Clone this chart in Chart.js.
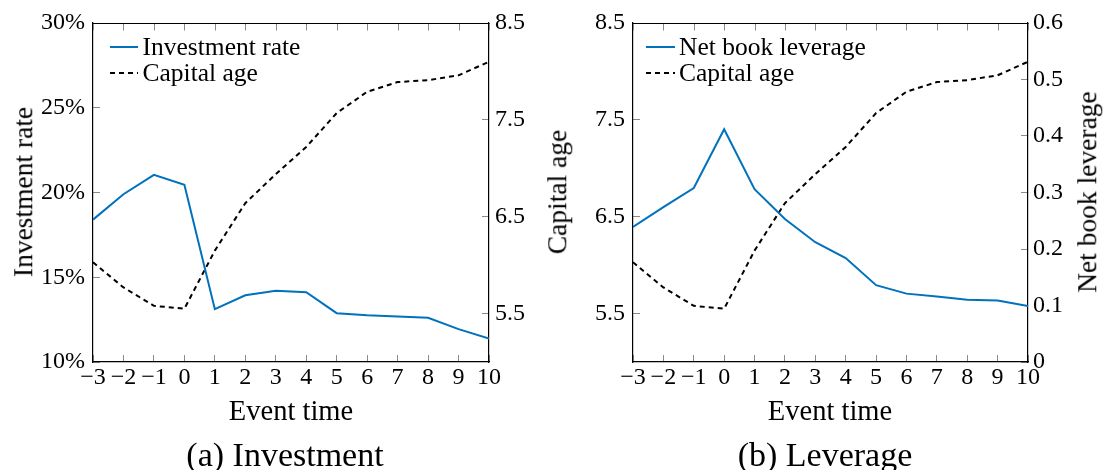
<!DOCTYPE html>
<html><head><meta charset="utf-8">
<script src="https://cdn.jsdelivr.net/npm/chart.js@4.4.1/dist/chart.umd.min.js"></script>
<style>
html,body{margin:0;padding:0;background:#fff;}
#wrap{position:relative;width:1103px;height:470px;overflow:hidden;font-family:'Liberation Serif',serif;color:#000;}
canvas{position:absolute;top:0;}
.t{position:absolute;white-space:nowrap;line-height:1;transform:translate(-50%,-50%);}
.r{transform:translate(-50%,-50%) rotate(-90deg);}
</style></head><body>
<div id="wrap">
<canvas id="c1" width="540" height="400" style="left:0"></canvas>
<canvas id="c2" width="543" height="400" style="left:560px"></canvas>
<div class="t r" style="left:23px;top:192px;font-size:27.5px">Investment rate</div>
<div class="t r" style="left:557px;top:192px;font-size:27.5px">Capital age</div>
<div class="t r" style="left:1087px;top:192px;font-size:27.5px">Net book leverage</div>
<div class="t" style="left:291px;top:411px;font-size:28.5px">Event time</div>
<div class="t" style="left:830px;top:411px;font-size:28.5px">Event time</div>
<div class="t" style="left:285px;top:455px;font-size:34px">(a) Investment</div>
<div class="t" style="left:825px;top:455px;font-size:34px">(b) Leverage</div>
</div>
<script>
// ---- data ----
const eventTime = [-3, -2, -1, 0, 1, 2, 3, 4, 5, 6, 7, 8, 9, 10];
const investmentRate = [18.4, 19.9, 21.04, 20.45, 13.12, 13.94, 14.2, 14.12, 12.88, 12.76, 12.69, 12.61, 11.94, 11.39];
const capitalAge = [6.03, 5.77, 5.58, 5.55, 6.15, 6.64, 6.94, 7.22, 7.57, 7.79, 7.89, 7.91, 7.96, 8.10];
const netBookLeverage = [0.239, 0.274, 0.308, 0.412, 0.306, 0.253, 0.212, 0.184, 0.136, 0.121, 0.116, 0.110, 0.109, 0.099];
// ---- tick labels ----
const eventTicks = [-3, -2, -1, 0, 1, 2, 3, 4, 5, 6, 7, 8, 9, 10];
const investmentTicks = [10, 15, 20, 25, 30];
const capitalAgeTicks = [5.5, 6.5, 7.5, 8.5];
const leverageTicks = [0, 0.1, 0.2, 0.3, 0.4, 0.5, 0.6];

const FONT = "'Liberation Serif', serif";
const BLUE = 'rgb(0,114,189)';
const TICKCOL = '#8a8a8a';
Chart.defaults.font.family = FONT;
Chart.defaults.color = '#000';

const pts = ys => eventTime.map((x, i) => ({x: x, y: ys[i]}));
const fixedTicks = arr => (s => { s.ticks = arr.map(v => ({value: v})); });
const minusFmt = v => String(v).replace('-', '\u2212');

function axis(pos, min, max, ticks, fmt, pad, size) {
  const horiz = pos === 'top' || pos === 'bottom';
  return {
    type: 'linear', position: pos, min: min, max: max,
    afterBuildTicks: fixedTicks(ticks),
    ticks: {callback: fmt, padding: pad, font: {size: 24, family: FONT}, color: '#000',
            autoSkip: false, maxRotation: 0, minRotation: 0},
    grid: {drawOnChartArea: false, drawTicks: true, tickLength: -7, color: TICKCOL, lineWidth: 1},
    border: {display: true, color: '#000', width: 1.2},
    afterFit: s => {
      if (horiz) s.height = size; else s.width = size;
      s.paddingTop = 0; s.paddingBottom = 0; s.paddingLeft = 0; s.paddingRight = 0;
    }
  };
}

// in-plot legend (no frame), drawn from the datasets' own label / colour / dash
const legendPlugin = {
  id: 'inLegend',
  afterDraw(chart, args, opts) {
    const {ctx, chartArea} = chart;
    ctx.save();
    ctx.font = '25.5px ' + FONT;
    ctx.textBaseline = 'alphabetic';
    ctx.textAlign = 'left';
    ctx.fillStyle = '#000';
    chart.data.datasets.forEach((ds, i) => {
      const y = chartArea.top + opts.y0 + i * opts.dy;
      ctx.beginPath();
      ctx.setLineDash(ds.borderDash || []);
      ctx.strokeStyle = ds.borderColor;
      ctx.lineWidth = ds.borderWidth;
      ctx.moveTo(chartArea.left + opts.x0, y);
      ctx.lineTo(chartArea.left + opts.x1, y);
      ctx.stroke();
      ctx.setLineDash([]);
      ctx.fillText(ds.label, chartArea.left + opts.tx, y + 7.8);
    });
    ctx.restore();
  }
};

// top edge of the axis box with mirrored (inward) x tick marks
const topFramePlugin = {
  id: 'topFrame',
  afterDraw(chart) {
    const {ctx, chartArea, scales} = chart;
    const xs = scales.x;
    const yTop = Math.round(chartArea.top) + 0.5;
    ctx.save();
    ctx.strokeStyle = TICKCOL;
    ctx.lineWidth = 1;
    xs.ticks.forEach(t => {
      const px = Math.round(xs.getPixelForValue(t.value)) + 0.5;
      ctx.beginPath();
      ctx.moveTo(px, yTop);
      ctx.lineTo(px, yTop + 7);
      ctx.stroke();
    });
    ctx.strokeStyle = '#000';
    ctx.lineWidth = 1.2;
    ctx.beginPath();
    ctx.moveTo(chartArea.left - 0.6, yTop);
    ctx.lineTo(chartArea.right + 0.6, yTop);
    ctx.stroke();
    ctx.restore();
  }
};

function lineDs(label, ys, color, dash, yAxisID) {
  return {label: label, data: pts(ys), borderColor: color, backgroundColor: color,
          borderWidth: 2, borderDash: dash, pointRadius: 0, tension: 0, fill: false,
          xAxisID: 'x', yAxisID: yAxisID};
}

const common = {
  responsive: false, animation: false, devicePixelRatio: 1,
  layout: {padding: {top: 23, left: 0, right: 0, bottom: 0}, autoPadding: false},
  events: []
};

new Chart(document.getElementById('c1'), {
  type: 'line',
  data: {datasets: [
    lineDs('Investment rate', investmentRate, BLUE, [], 'y'),
    lineDs('Capital age', capitalAge, '#000', [5, 4], 'y1')
  ]},
  options: Object.assign({}, common, {
    scales: {
      x: axis('bottom', -3, 10, eventTicks, minusFmt, 8, 38),
      y: axis('left', 10, 30, investmentTicks, v => v + '%', 15, 93),
      y1: axis('right', 5, 8.5, capitalAgeTicks, v => v.toFixed(1), 13, 51)
    },
    plugins: {legend: {display: false}, tooltip: {enabled: false},
              inLegend: {x0: 17, x1: 45, tx: 49.5, y0: 24, dy: 26}}
  }),
  plugins: [legendPlugin, topFramePlugin]
});

new Chart(document.getElementById('c2'), {
  type: 'line',
  data: {datasets: [
    lineDs('Net book leverage', netBookLeverage, BLUE, [], 'y1'),
    lineDs('Capital age', capitalAge, '#000', [5, 4], 'y')
  ]},
  options: Object.assign({}, common, {
    scales: {
      x: axis('bottom', -3, 10, eventTicks, minusFmt, 8, 38),
      y: axis('left', 5, 8.5, capitalAgeTicks, v => v.toFixed(1), 15, 73),
      y1: axis('right', 0, 0.6, leverageTicks, v => (v === 0 ? '0' : v.toFixed(1)), 12, 75)
    },
    plugins: {legend: {display: false}, tooltip: {enabled: false},
              inLegend: {x0: 13, x1: 42, tx: 46, y0: 24, dy: 26}}
  }),
  plugins: [legendPlugin, topFramePlugin]
});
</script>
</body></html>
